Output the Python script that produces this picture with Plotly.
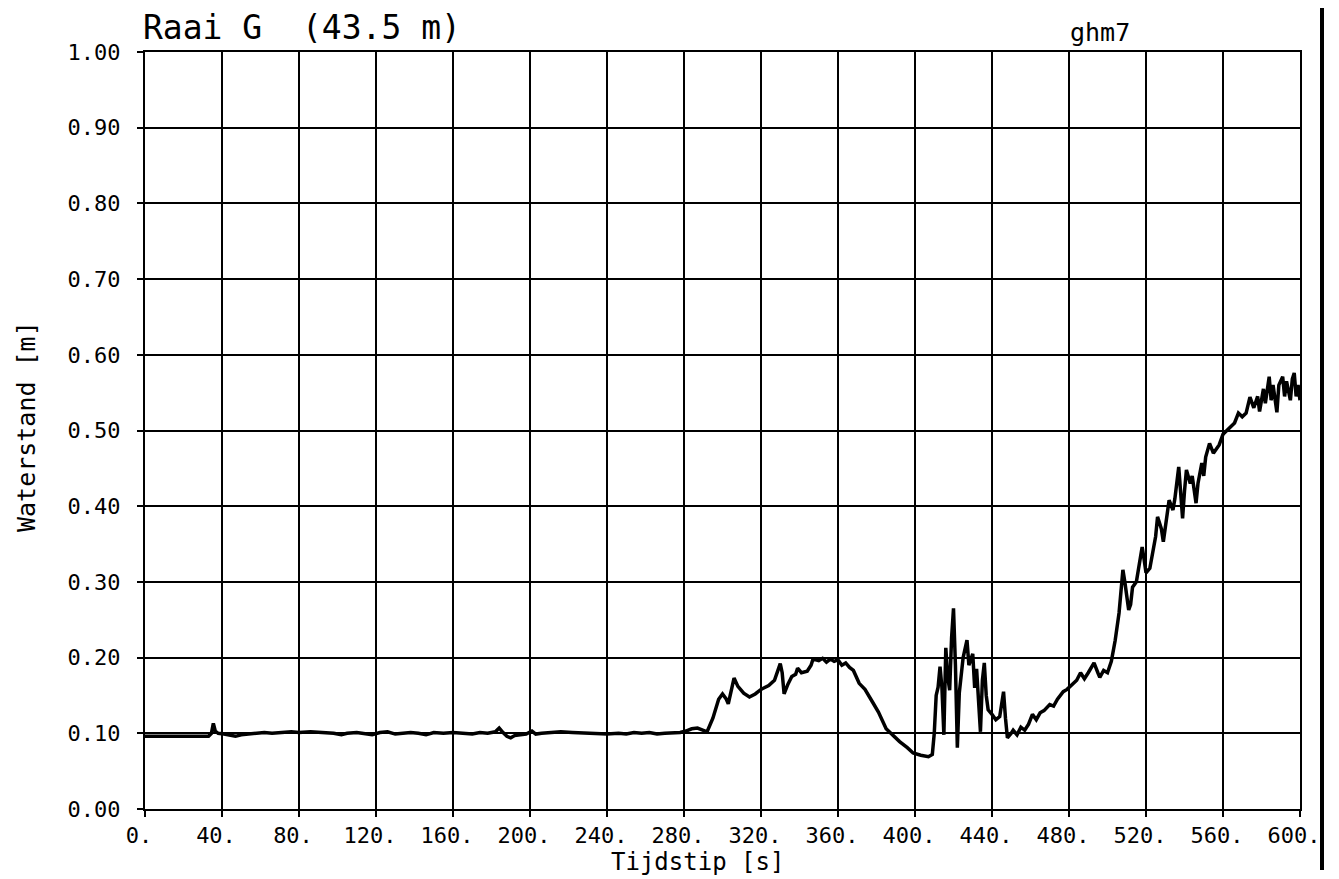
import plotly.graph_objects as go

# Time (s) and water level (m)
time_s = [
    0, 10, 20, 33, 34.5, 35.5, 36.5, 38, 41, 44, 47, 50, 54, 58, 62, 66, 70, 76, 80, 86,
    92, 98, 102, 105, 110, 114, 118, 122, 126, 130, 134, 138, 142, 146, 150, 155, 160, 165,
    170, 174, 178, 182, 184, 186, 188, 190, 192, 195, 198, 201, 203, 206, 210, 216, 222,
    228, 234, 240, 246, 250, 254, 258, 262, 266, 270, 274, 278, 281, 284, 287, 290, 292,
    295, 298, 300, 302, 303, 305, 306, 308, 311, 314, 317, 320, 324, 327, 330, 331, 332,
    334, 336, 338, 339, 341, 344, 346, 347, 350, 352, 354, 356, 358, 360, 362, 364, 366,
    368, 371, 374, 378, 381, 385, 388, 392, 396, 399, 403, 407, 409, 410, 411, 412, 413,
    414, 415, 416, 417, 418, 419, 420, 421, 422, 423, 424, 425, 427, 428, 430, 431, 432,
    433, 434, 435, 436, 437, 438, 440, 442, 444, 446, 447, 448, 450, 451, 453, 455, 457,
    459, 461, 463, 465, 467, 470, 472, 474, 477, 479, 481, 484, 486, 488, 490, 493, 495,
    496, 498, 500, 502, 504, 506, 508, 509, 511, 512, 513, 515, 518, 519, 520, 522, 523,
    525, 526, 528, 529, 531, 532, 534, 535, 537, 538, 539, 540, 541, 543, 544, 546, 547,
    549, 550, 551, 553, 555, 558, 560, 562, 564, 566, 568, 570, 572, 574, 576, 578, 579,
    581, 582, 584, 585, 586, 588, 589, 591, 592, 593, 595, 596, 597, 598, 599, 600,
]
waterstand_m = [
    0.096, 0.096, 0.096, 0.096, 0.100, 0.113, 0.103, 0.100, 0.099, 0.098, 0.096, 0.098,
    0.099, 0.100, 0.101, 0.100, 0.101, 0.102, 0.101, 0.102, 0.101, 0.100, 0.098, 0.100,
    0.101, 0.100, 0.098, 0.101, 0.102, 0.099, 0.100, 0.101, 0.100, 0.098, 0.101, 0.100,
    0.101, 0.100, 0.099, 0.101, 0.100, 0.102, 0.107, 0.101, 0.096, 0.094, 0.097, 0.098,
    0.099, 0.103, 0.099, 0.100, 0.101, 0.102, 0.101, 0.100, 0.100, 0.099, 0.100, 0.099,
    0.101, 0.100, 0.101, 0.099, 0.100, 0.101, 0.101, 0.103, 0.106, 0.107, 0.104, 0.102,
    0.120, 0.145, 0.152, 0.145, 0.139, 0.165, 0.173, 0.162, 0.153, 0.148, 0.152, 0.158,
    0.163, 0.170, 0.192, 0.180, 0.152, 0.165, 0.175, 0.178, 0.186, 0.180, 0.182, 0.190,
    0.198, 0.196, 0.199, 0.194, 0.198, 0.195, 0.197, 0.190, 0.193, 0.187, 0.183, 0.166,
    0.158, 0.141, 0.128, 0.106, 0.098, 0.089, 0.081, 0.074, 0.071, 0.069, 0.072, 0.100,
    0.150, 0.161, 0.188, 0.160, 0.098, 0.213, 0.175, 0.157, 0.226, 0.265, 0.190, 0.081,
    0.153, 0.180, 0.200, 0.223, 0.190, 0.205, 0.160, 0.185, 0.144, 0.102, 0.170, 0.193,
    0.150, 0.131, 0.125, 0.118, 0.122, 0.155, 0.120, 0.094, 0.100, 0.104, 0.098, 0.108,
    0.104, 0.112, 0.125, 0.118, 0.127, 0.130, 0.138, 0.136, 0.145, 0.155, 0.158, 0.163,
    0.170, 0.180, 0.172, 0.180, 0.193, 0.180, 0.174, 0.183, 0.180, 0.195, 0.223, 0.259,
    0.316, 0.300, 0.263, 0.270, 0.293, 0.300, 0.346, 0.330, 0.312, 0.318, 0.333, 0.360,
    0.386, 0.370, 0.353, 0.385, 0.408, 0.395, 0.410, 0.452, 0.420, 0.384, 0.420, 0.448,
    0.430, 0.440, 0.404, 0.430, 0.457, 0.440, 0.465, 0.483, 0.470, 0.481, 0.495, 0.500,
    0.505, 0.510, 0.523, 0.518, 0.523, 0.544, 0.530, 0.545, 0.525, 0.555, 0.536, 0.571,
    0.540, 0.560, 0.524, 0.560, 0.571, 0.545, 0.565, 0.540, 0.568, 0.576, 0.545, 0.560,
    0.540,
]

x_tick_vals = [0, 40, 80, 120, 160, 200, 240, 280, 320, 360, 400, 440, 480, 520, 560, 600]
x_tick_text = ["0.", "40.", "80.", "120.", "160.", "200.", "240.", "280.", "320.", "360.",
               "400.", "440.", "480.", "520.", "560.", "600."]
y_tick_vals = [0.0, 0.1, 0.2, 0.3, 0.4, 0.5, 0.6, 0.7, 0.8, 0.9, 1.0]
y_tick_text = ["0.00", "0.10", "0.20", "0.30", "0.40", "0.50", "0.60", "0.70", "0.80",
               "0.90", "1.00"]

FONT = "DejaVu Sans Mono"

# page body margin offsets the figure by 8 px; plot area sits at (145..1300, 52..809) on screen
OFF = 8
L, T, PW, PH = 145 - OFF, 52 - OFF, 1155, 757
W, H = 1339 - OFF, 879 - OFF


def px(xs):
    return (xs - 145) / PW


def py(ys):
    return (809 - ys) / PH


fig = go.Figure()
fig.add_trace(go.Scatter(
    x=time_s, y=waterstand_m, mode="lines",
    line=dict(color="black", width=3.5), showlegend=False, hoverinfo="skip",
))

axis_common = dict(
    showgrid=True, gridcolor="black", gridwidth=1.6,
    showline=True, linecolor="black", linewidth=2, mirror=True,
    ticks="outside", ticklen=6, tickcolor="black", tickwidth=1.5,
    zeroline=False, automargin=False,
    tickfont=dict(family=FONT, size=22, color="black"),
)

fig.update_layout(
    width=W, height=H,
    margin=dict(l=L, r=W - L - PW, t=T, b=H - T - PH),
    paper_bgcolor="white", plot_bgcolor="white",
    xaxis=dict(range=[0, 600], tickmode="array", tickvals=x_tick_vals,
               ticktext=x_tick_text, ticklabelstandoff=0, ticklabelshift=-6,
               **axis_common),
    yaxis=dict(range=[0, 1.0], tickmode="array", tickvals=y_tick_vals,
               ticktext=y_tick_text, ticklabelstandoff=12, **axis_common),
    annotations=[
        dict(text="Raai G  (43.5 m)", xref="paper", yref="paper", x=px(141), y=py(27),
             xanchor="left", yanchor="middle", showarrow=False,
             font=dict(family=FONT, size=33, color="black")),
        dict(text="ghm7", xref="paper", yref="paper", x=px(1100), y=py(33),
             xanchor="center", yanchor="middle", showarrow=False,
             font=dict(family=FONT, size=25, color="black")),
        dict(text="Tijdstip [s]", xref="paper", yref="paper", x=px(697),
             y=py(862), xanchor="center", yanchor="middle", showarrow=False,
             font=dict(family=FONT, size=24, color="black")),
        dict(text="Waterstand [m]", xref="paper", yref="paper", x=px(26),
             y=py(427), xanchor="center", yanchor="middle", textangle=-90,
             showarrow=False, font=dict(family=FONT, size=25, color="black")),
    ],
    shapes=[
        dict(type="rect", xref="paper", yref="paper", layer="above",
             x0=px(1320), x1=px(1324), y0=py(870), y1=py(8),
             fillcolor="black", line=dict(width=0)),
    ],
)

fig.write_html("out.html")
